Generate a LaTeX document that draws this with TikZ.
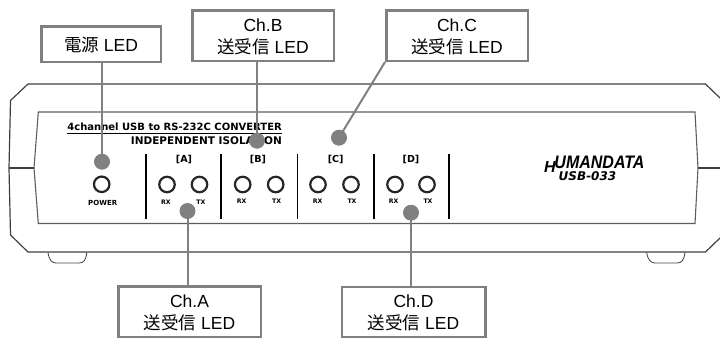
\documentclass[tikz,border=0pt]{standalone}
\usepackage{fontspec}
\setmainfont{Liberation Sans}
\newfontfamily\cjk{Noto Sans CJK JP}
\newfontfamily\panelfont{DejaVu Sans}
\newfontfamily\logofont{Liberation Sans}
\newcommand{\jp}[1]{{\cjk #1}}
\definecolor{calloutgray}{HTML}{808080}
\definecolor{edge}{HTML}{404040}
\tikzset{
  x=1pt,y=-1pt,
  callout/.style={draw=calloutgray,line width=2.5pt,fill=white,inner sep=0pt},
  calloutlabel/.style={align=center,inner sep=0pt,font=\fontsize{17.5}{22}\selectfont},
  dotmark/.style={circle,fill=calloutgray,inner sep=0pt,minimum size=16pt},
  leader/.style={draw=calloutgray,line width=2pt},
  case/.style={draw=edge,line width=1.2pt},
  panel/.style={draw=edge!85,line width=1.1pt},
  led/.style={circle,draw=black!85,line width=2.2pt,minimum size=15.5pt,inner sep=0pt},
  divider/.style={draw=black,line width=1.7pt},
  small/.style={font=\fontsize{6.2}{7}\panelfont\bfseries,inner sep=0pt},
  chan/.style={font=\fontsize{9.6}{10}\panelfont\bfseries,inner sep=0pt}
}
\begin{document}
\begin{tikzpicture}
\useasboundingbox (0,0) rectangle (720,340);
% case
\draw[case] (720,98) -- (705.5,84) -- (28,84) -- (10.5,100.5) -- (9,168) -- (10.5,235) -- (28,252) -- (705.5,252) -- (720,238);
\draw[panel] (38.3,112) -- (695,112) -- (698,168) -- (695,223.5) -- (38.3,223.5) -- (34,168) -- cycle;
\draw[case,line width=2pt] (9,168.3) -- (34,168.3);
\draw[case,line width=2pt] (698,168.3) -- (720,168.3);
\draw[case,line width=.8pt] (48,252.5) .. controls (49,260) and (52,263) .. (56,263) -- (79,263) .. controls (84,263) and (86,260) .. (86.7,252.5);
\draw[case,line width=.8pt] (646.7,252.5) .. controls (647.7,260) and (651,263) .. (655,263) -- (677,263) .. controls (682,263) and (684,260) .. (685,252.5);
% panel text
\node[anchor=east,inner sep=0pt,font=\fontsize{10}{10}\panelfont\bfseries] (title) at (282,127) {4channel USB to RS-232C CONVERTER};
\draw[black,line width=.9pt] (67,133.2) -- (282,133.2);
\node[anchor=east,inner sep=0pt,font=\fontsize{10.5}{10}\panelfont\bfseries] (iso) at (282,141) {INDEPENDENT ISOLATION};
\node[small,font=\fontsize{7}{7}\panelfont\bfseries] (pw) at (102.7,202.7) {POWER};
\node[led] (l0) at (101.7,184.3) {};
\foreach \n/\rx/\tx/\lx/\rl/\tl/\ty/\lab in {a/167/199.5/184/166/201/202.7/A,b/242.7/275.7/258/241.7/276.7/201.5/B,c/318/351/335.7/317.7/352/201.5/C,d/395/427/411/393.7/428/201.5/D}{
  \node[chan] (h\n) at (\lx,159) {[\lab]};
  \node[led] (r\n) at (\rx,184.5) {};
  \node[led] (t\n) at (\tx,184.5) {};
  \node[small] (rx\n) at (\rl,\ty) {RX};
  \node[small] (tx\n) at (\tl,\ty) {TX};
}
\foreach \x in {145.7,221.3,297.5,373.7,449.3}{\draw[divider] (\x,154) -- (\x,219);}
% logo
\node[inner sep=0pt,font=\fontsize{16}{16}\logofont\bfseries\itshape] (h) at (550,167) {H};
\node[inner sep=0pt,font=\fontsize{16}{16}\logofont\bfseries\itshape] (um) at (599.5,162.5) {\scalebox{1}[1.13]{UMANDATA}};
\node[inner sep=0pt,font=\fontsize{12}{12}\panelfont\bfseries\itshape] (usb) at (587.5,176.5) {USB-033};
% callouts
\node[dotmark] (d0) at (102,161.7) {};
\node[dotmark] (dA) at (187.5,211) {};
\node[dotmark] (dB) at (257,140.7) {};
\node[dotmark] (dC) at (339,137.7) {};
\node[dotmark] (dD) at (411,212.7) {};
\node[callout,minimum width=119.5pt,minimum height=35.5pt] (b0) at (101,44) {};
\node[callout,minimum width=141.5pt,minimum height=50.5pt] (bB) at (263,35.5) {};
\node[callout,minimum width=141.5pt,minimum height=50.5pt] (bC) at (457,35.5) {};
\node[callout,minimum width=142.5pt,minimum height=50.5pt] (bA) at (189.5,311.5) {};
\node[callout,minimum width=143.5pt,minimum height=50pt] (bD) at (413.5,312) {};
\node[calloutlabel] (t0) at ([yshift=-.5pt]b0.center) {\jp{電源} LED};
\node[calloutlabel] (tB) at ([yshift=-1.5pt]bB.center) {Ch.B\\\jp{送受信} LED};
\node[calloutlabel] (tC) at ([yshift=-1.5pt]bC.center) {Ch.C\\\jp{送受信} LED};
\node[calloutlabel] (tA) at ([yshift=-1.2pt]bA.center) {Ch.A\\\jp{送受信} LED};
\node[calloutlabel] (tD) at ([yshift=-1.2pt]bD.center) {Ch.D\\\jp{送受信} LED};
\draw[leader] (d0.center) -- (d0.center |- b0.south);
\draw[leader] (dB.center) -- (dB.center |- bB.south);
\draw[leader] (dC.center) -- (bC.south west);
\draw[leader] (dA.center) -- (dA.center |- bA.north);
\draw[leader] (dD.center) -- (dD.center |- bD.north);
\end{tikzpicture}
\end{document}
